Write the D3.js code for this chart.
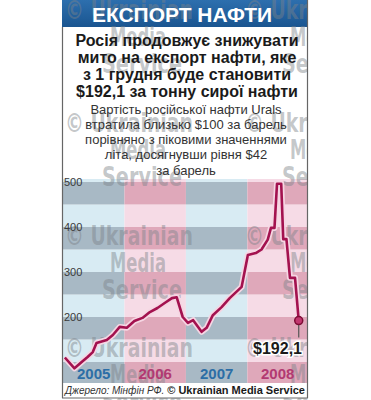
<!DOCTYPE html>
<html>
<head>
<meta charset="utf-8">
<script src="https://cdn.jsdelivr.net/npm/d3@7"></script>
<style>
  html, body { margin: 0; padding: 0; background: #ffffff; }
  svg { display: block; }
</style>
</head>
<body>
<script>
// Russian crude oil export duty, USD per tonne
const dates = [
  "2005-01-12", "2005-03-10", "2005-04-22", "2005-05-27", "2005-06-27", "2005-07-19",
  "2005-09-18", "2005-10-24", "2005-12-04", "2006-01-15", "2006-03-01", "2006-04-18",
  "2006-06-01", "2006-07-16", "2006-08-28", "2006-10-10", "2006-11-07", "2006-12-13",
  "2007-01-13", "2007-02-13", "2007-04-04", "2007-05-04", "2007-06-10", "2007-08-01",
  "2007-09-18", "2007-11-28", "2008-01-04", "2008-02-20", "2008-03-25", "2008-05-01",
  "2008-05-20", "2008-06-10", "2008-06-25", "2008-07-20", "2008-08-01", "2008-08-20",
  "2008-09-10", "2008-10-10", "2008-11-01"
];
const duty = [
  110, 86, 100, 111, 122, 142,
  149, 160, 178, 176, 191, 198,
  211, 220, 231, 242, 244, 200,
  187, 193, 167, 176, 204, 222,
  242, 267, 338, 342, 350, 372,
  398, 398, 496, 496, 373, 373,
  287, 287, 192.1
];
const years = ["2005", "2006", "2007", "2008"];
const yTicks = [200, 300, 400, 500];

const headline = [
  "Росія продовжує знижувати",
  "мито на експорт нафти, яке",
  "з 1 грудня буде становити",
  "$192,1 за тонну сирої нафти"
];
const body = [
  "Вартість російської нафти Urals",
  "втратила близько $100 за барель",
  "порівняно з піковими значеннями",
  "літа, досягнувши рівня $42",
  "за барель"
];

const W = 371, H = 400;
const L = 62, R = 308;
const plotTop = 179, plotBottom = 383;

const svg = d3.select("body").append("svg")
  .attr("width", W).attr("height", H);

const x = d3.scaleTime()
  .domain([new Date(2005, 0, 1), new Date(2009, 0, 1)])
  .range([63, 309]);
const y = d3.scaleLinear()
  .domain([100, 500])
  .range([362, 182]);

const defs = svg.append("defs");
const clipId = "graphic-clip";
defs.append("clipPath").attr("id", clipId)
  .append("rect").attr("x", L).attr("y", 0).attr("width", R - L).attr("height", H);

// ---- header bar
const bar = defs.append("linearGradient").attr("id", "bar-grad")
  .attr("x1", 0).attr("y1", 0).attr("x2", 0).attr("y2", 1);
bar.append("stop").attr("offset", "0%").attr("stop-color", "#2d6fae");
bar.append("stop").attr("offset", "100%").attr("stop-color", "#1a5590");
svg.append("rect").attr("x", L).attr("y", 0).attr("width", R - L).attr("height", 27)
  .attr("fill", "url(#bar-grad)");

// ---- year columns with horizontal stripes
const yearStarts = years.map(d => new Date(+d, 0, 1));
const colTints = [
  { dark: "#a8b9c5", light: "#d8ebf3" },
  { dark: "#dfa8ba", light: "#f6dbe6" }
];
const bandsG = svg.append("g").attr("clip-path", `url(#${clipId})`);
const vBottom = y.invert(plotBottom), vTop = y.invert(plotTop);
const stripeEdges = d3.range(0, 600, 50).filter(v => v + 50 > vBottom && v < vTop);
years.forEach((yr, i) => {
  const x0 = i === 0 ? L : x(yearStarts[i]);
  const x1 = i === years.length - 1 ? R : x(new Date(+yr + 1, 0, 1));
  const tint = colTints[i % 2];
  stripeEdges.forEach(v => {
    const yTopPx = Math.max(plotTop, y(v + 50));
    const yBotPx = Math.min(plotBottom, y(v));
    bandsG.append("rect")
      .attr("x", x0).attr("y", yTopPx)
      .attr("width", x1 - x0).attr("height", yBotPx - yTopPx)
      .attr("fill", (v / 50) % 2 === 1 ? tint.dark : tint.light);
  });
});

// ---- watermark, repeated in two columns
const wm = svg.append("g").attr("clip-path", `url(#${clipId})`)
  .attr("font-family", "'DejaVu Sans Condensed', 'DejaVu Sans', Arial, sans-serif")
  .attr("font-weight", "bold")
  .attr("font-size", 26)
  .attr("fill", "#7c8288")
  .attr("fill-opacity", 0.45);
// text, x offset within the block, width
const wmLines = [["© Ukrainian", 0, 128], ["Media", 45, 56], ["Service", 37, 80]];
[9, 122, 235, 347].forEach(top => {
  [65, 245].forEach(left => {
    wmLines.forEach(([t, dx, w], k) => {
      wm.append("text")
        .attr("x", left + dx)
        .attr("y", top + k * 27 + 10)
        .attr("textLength", w).attr("lengthAdjust", "spacingAndGlyphs")
        .text(t);
    });
  });
});

// ---- header text
svg.append("text")
  .attr("x", 182).attr("y", 22)
  .attr("text-anchor", "middle")
  .attr("font-family", "'Liberation Sans', Arial, sans-serif")
  .attr("font-weight", "bold").attr("font-size", 20)
  .attr("fill", "#ffffff")
  .attr("textLength", 180).attr("lengthAdjust", "spacingAndGlyphs")
  .text("ЕКСПОРТ НАФТИ");

const headG = svg.append("g")
  .attr("font-family", "'Liberation Sans', Arial, sans-serif")
  .attr("font-weight", "bold").attr("font-size", 16)
  .attr("fill", "#1a1a1a").attr("text-anchor", "middle");
headline.forEach((t, i) => {
  headG.append("text").attr("x", 187).attr("y", 45.5 + i * 17.1).text(t);
});

const bodyG = svg.append("g")
  .attr("font-family", "'Liberation Sans', Arial, sans-serif")
  .attr("font-size", 13)
  .attr("fill", "#333333").attr("text-anchor", "middle");
body.forEach((t, i) => {
  bodyG.append("text").attr("x", 186).attr("y", 113.5 + i * 15.3).text(t);
});

// ---- y axis labels
const yAxis = d3.axisRight(y).tickValues(yTicks).tickSize(0).tickPadding(0);
const yAxisG = svg.append("g").attr("transform", `translate(64,0)`).call(yAxis);
yAxisG.select(".domain").remove();
yAxisG.selectAll("text")
  .attr("font-family", "'Liberation Sans', Arial, sans-serif")
  .attr("font-size", 11)
  .attr("fill", "#3a3a3a");

// ---- year labels
const yearG = svg.append("g")
  .attr("font-family", "'Liberation Sans', Arial, sans-serif")
  .attr("font-weight", "bold").attr("font-size", 15)
  .attr("text-anchor", "middle");
years.forEach((yr, i) => {
  const x0 = x(yearStarts[i]);
  const x1 = i === years.length - 1 ? R : x(new Date(+yr + 1, 0, 1));
  yearG.append("text")
    .attr("x", (x0 + x1) / 2).attr("y", 379)
    .attr("fill", i % 2 === 0 ? "#2c6ea6" : "#b23a72")
    .text(yr);
});

// ---- duty line
const pts = dates.map((d, i) => ({ date: d3.timeParse("%Y-%m-%d")(d), value: duty[i] }));
const line = d3.line().x(d => x(d.date)).y(d => y(d.value));
svg.append("path").datum(pts).attr("d", line)
  .attr("fill", "none").attr("stroke", "#f6d6e3").attr("stroke-width", 6)
  .attr("stroke-linejoin", "round");
svg.append("path").datum(pts).attr("d", line)
  .attr("fill", "none").attr("stroke", "#a3124f").attr("stroke-width", 2.6)
  .attr("stroke-linejoin", "round");

// last value marker and label
const last = pts[pts.length - 1];
svg.append("line")
  .attr("x1", x(last.date)).attr("x2", x(last.date))
  .attr("y1", y(last.value)).attr("y2", y(last.value) + 17)
  .attr("stroke", "#555").attr("stroke-width", 1.2);
svg.append("circle")
  .attr("cx", x(last.date)).attr("cy", y(last.value)).attr("r", 4)
  .attr("fill", "#c2376f").attr("stroke", "#7c0b34").attr("stroke-width", 1.5);
svg.append("text")
  .attr("x", 302).attr("y", 354)
  .attr("text-anchor", "end")
  .attr("font-family", "'Liberation Sans', Arial, sans-serif")
  .attr("font-weight", "bold").attr("font-size", 16)
  .attr("fill", "#1a1a1a")
  .attr("stroke", "#ffffff").attr("stroke-width", 3).attr("paint-order", "stroke")
  .text("$" + d3.format(",.1f")(last.value).replace(".", ","));

// ---- footer
svg.append("rect").attr("x", L).attr("y", plotBottom).attr("width", R - L).attr("height", 15)
  .attr("fill", "#ffffff");
svg.append("text")
  .attr("x", 65).attr("y", 394)
  .attr("font-family", "'Liberation Sans', Arial, sans-serif")
  .attr("font-style", "italic").attr("font-size", 10)
  .attr("fill", "#333")
  .text("Джерело: Мінфін РФ.");
svg.append("text")
  .attr("x", 305).attr("y", 394)
  .attr("text-anchor", "end")
  .attr("font-family", "'Liberation Sans', Arial, sans-serif")
  .attr("font-weight", "bold").attr("font-size", 11)
  .attr("fill", "#1a1a1a")
  .text("© Ukrainian Media Service");

// ---- frame
svg.append("line").attr("x1", L + 0.5).attr("x2", L + 0.5).attr("y1", 27).attr("y2", 398)
  .attr("stroke", "#666").attr("stroke-width", 1.2);
svg.append("line").attr("x1", R - 0.5).attr("x2", R - 0.5).attr("y1", 0).attr("y2", 398)
  .attr("stroke", "#666").attr("stroke-width", 1.2);
svg.append("line").attr("x1", L).attr("x2", R).attr("y1", 398).attr("y2", 398)
  .attr("stroke", "#666").attr("stroke-width", 1);
</script>
</body>
</html>
